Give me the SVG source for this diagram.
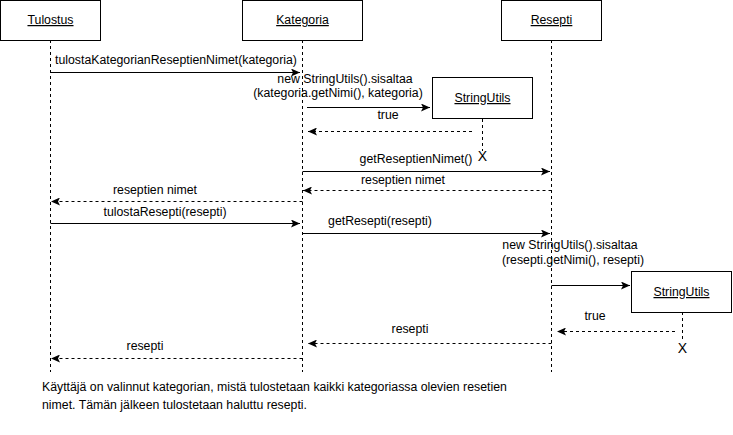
<svg xmlns="http://www.w3.org/2000/svg" width="733" height="435" viewBox="0 0 733 435">
<style>
.box{fill:#fff;stroke:#000;stroke-width:1}
.life{stroke:#000;stroke-width:1;stroke-dasharray:3,3;fill:none}
.msg{stroke:#000;stroke-width:1;fill:none}
.ret{stroke:#000;stroke-width:1;stroke-dasharray:3,3;fill:none}
text{font-family:"Liberation Sans",Arial,Helvetica,sans-serif;font-size:12.3px;fill:#000}
.c{text-anchor:middle}
.u{text-decoration:underline}
.x{font-size:14px}
</style>
<defs>
<marker id="ah" markerWidth="10" markerHeight="8" refX="9" refY="4" orient="auto" markerUnits="userSpaceOnUse">
<path d="M0,0 L9,4 L0,8 L2,4 z" fill="#000"/>
</marker>
</defs>
<rect width="733" height="435" fill="#fff"/>
<g id="lifelines">
<line class="life" x1="50.5" y1="40" x2="50.5" y2="372"/>
<line class="life" x1="302.5" y1="40" x2="302.5" y2="372"/>
<line class="life" x1="551.5" y1="40" x2="551.5" y2="372"/>
<line class="life" x1="482.5" y1="119" x2="482.5" y2="151"/>
<line class="life" x1="682.5" y1="312" x2="682.5" y2="342"/>
</g>
<g id="tulostus"><rect class="box" x="0.5" y="0.5" width="100" height="40"/><text class="c u" x="50.5" y="24">Tulostus</text></g>
<g id="kategoria"><rect class="box" x="242.5" y="0.5" width="120" height="40"/><text class="c u" x="302.5" y="24">Kategoria</text></g>
<g id="resepti"><rect class="box" x="501.5" y="0.5" width="100" height="40"/><text class="c u" x="551.5" y="24">Resepti</text></g>
<g id="stringutils1"><rect class="box" x="432.5" y="77.5" width="100" height="41"/><text class="c u" x="482.5" y="102">StringUtils</text><text class="c x" x="482.5" y="161">X</text></g>
<g id="stringutils2"><rect class="box" x="631.5" y="271.5" width="100" height="41"/><text class="c u" x="681.5" y="296">StringUtils</text><text class="c x" x="682.5" y="353">X</text></g>
<g id="connectors">
<line class="msg" x1="50.5" y1="72.5" x2="300" y2="72.5" marker-end="url(#ah)"/>
<text class="c" x="176" y="64">tulostaKategorianReseptienNimet(kategoria)</text>
<text class="c" x="345" y="83">new StringUtils().sisaltaa</text>
<text class="c" x="338" y="97">(kategoria.getNimi(), kategoria)</text>
<line class="msg" x1="307" y1="107.5" x2="430" y2="107.5" marker-end="url(#ah)"/>
<text class="c" x="388" y="119">true</text>
<line class="ret" x1="472" y1="131.5" x2="308" y2="131.5" marker-end="url(#ah)"/>
<text class="c" x="416" y="163">getReseptienNimet()</text>
<line class="msg" x1="302.5" y1="171.5" x2="550" y2="171.5" marker-end="url(#ah)"/>
<text class="c" x="403" y="184">reseptien nimet</text>
<line class="ret" x1="551.5" y1="190.5" x2="303" y2="190.5" marker-end="url(#ah)"/>
<text class="c" x="155" y="194">reseptien nimet</text>
<line class="ret" x1="302.5" y1="201.5" x2="51" y2="201.5" marker-end="url(#ah)"/>
<text class="c" x="165" y="216">tulostaResepti(resepti)</text>
<line class="msg" x1="50.5" y1="223.5" x2="300" y2="223.5" marker-end="url(#ah)"/>
<text class="c" x="380" y="225">getResepti(resepti)</text>
<line class="msg" x1="302.5" y1="233.5" x2="550" y2="233.5" marker-end="url(#ah)"/>
<text class="c" x="570" y="249">new StringUtils().sisaltaa</text>
<text class="c" x="573" y="264">(resepti.getNimi(), resepti)</text>
<line class="msg" x1="551.5" y1="285.5" x2="630" y2="285.5" marker-end="url(#ah)"/>
<text class="c" x="595" y="320">true</text>
<line class="ret" x1="675" y1="331.5" x2="557" y2="331.5" marker-end="url(#ah)"/>
<text class="c" x="410" y="333">resepti</text>
<line class="ret" x1="551.5" y1="343.5" x2="308" y2="343.5" marker-end="url(#ah)"/>
<text class="c" x="145" y="350">resepti</text>
<line class="ret" x1="302.5" y1="358.5" x2="51" y2="358.5" marker-end="url(#ah)"/>
</g>
<g id="note">
<text x="42" y="391">Käyttäjä on valinnut kategorian, mistä tulostetaan kaikki kategoriassa olevien resetien</text>
<text x="42" y="409">nimet. Tämän jälkeen tulostetaan haluttu resepti.</text>
</g>
</svg>
